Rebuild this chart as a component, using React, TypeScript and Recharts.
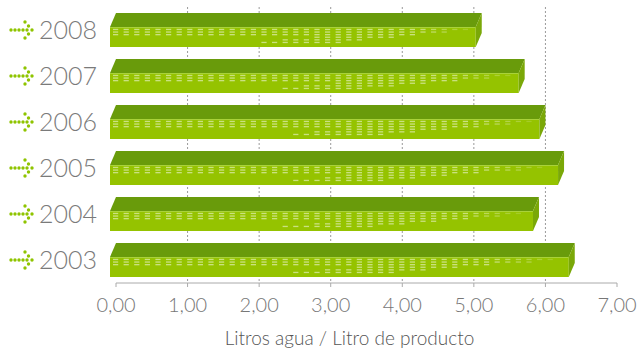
import { BarChart, Bar, XAxis, YAxis, CartesianGrid } from "recharts";

const years = ["2008", "2007", "2006", "2005", "2004", "2003"];
const litros = [5.11, 5.71, 6.0, 6.26, 5.91, 6.41];
const xTicks = [0, 1, 2, 3, 4, 5, 6, 7];
const gridValues = [1, 2, 3, 4, 5, 6];

const data = years.map((year, i) => ({ year, litros: litros[i] }));

const FONT = "Lato, 'Open Sans', sans-serif";
const TOP = "#699b0b";
const FRONT = "#95c300";
const SIDE = "#7aa808";
const DEPTH_X = 6;
const DEPTH_Y = 14;

// coverage of the light dash pattern along the front face (0..1 of face height)
function dashRanges(t: number): [number, number][] {
  if (t < 0.38) return [[0, 0.45]];
  if (t < 0.6) {
    const b = (0.55 * (t - 0.38)) / 0.22;
    return [
      [0, 0.45],
      [1 - b, 1],
    ];
  }
  return [[0, 1 - (0.88 * (t - 0.6)) / 0.4]];
}

function Bar3D(props: any) {
  const { x, y, width, height } = props;
  if (!width || width <= 0) return null;
  const fx = x - DEPTH_X;
  const fy = y + DEPTH_Y;
  const fh = height - DEPTH_Y;
  const right = x + width;

  const dashes: JSX.Element[] = [];
  const colW = 10.6;
  const cols = Math.floor((width - 4) / colW);
  const rows = Math.floor((fh - 2) / 2.6);
  for (let c = 0; c < cols; c++) {
    const cx = fx + 3 + c * colW;
    const t = (c + 0.5) / cols;
    const ranges = dashRanges(t);
    const op = t > 0.85 ? 0.5 * (1 - (t - 0.85) / 0.2) : 0.5;
    for (let r = 0; r < rows; r++) {
      const f = (r + 0.5) / rows;
      if (!ranges.some(([a, b]) => f >= a && f <= b)) continue;
      dashes.push(
        <rect
          key={`${c}-${r}`}
          x={cx}
          y={fy + 1.8 + r * 2.6}
          width={5.2}
          height={1.3}
          fill="#ffffff"
          fillOpacity={op}
        />
      );
    }
  }

  return (
    <g>
      <polygon
        points={`${fx},${fy} ${x},${y} ${right},${y} ${right - DEPTH_X},${fy}`}
        fill={TOP}
      />
      <rect x={fx} y={fy} width={width} height={fh} fill={FRONT} />
      <line x1={fx} y1={fy + 0.5} x2={right - DEPTH_X} y2={fy + 0.5} stroke="#a9d23a" strokeWidth={1} />
      {dashes}
      <polygon
        points={`${right},${y} ${right},${y + height - DEPTH_Y} ${right - DEPTH_X},${y + height} ${right - DEPTH_X},${fy}`}
        fill={SIDE}
      />
    </g>
  );
}

function YearTick(props: any) {
  const { x, y, payload } = props;
  const dots: [number, number][] = [
    [-86, 0], [-82, 0], [-78, 0], [-74, 0], [-70, 0],
    [-72, -8], [-68.5, -4], [-65, 0], [-68.5, 4], [-72, 8],
  ];
  return (
    <g>
      {dots.map(([dx, dy], i) => (
        <circle key={i} cx={x + dx} cy={y + dy} r={1.7} fill="#8fc400" />
      ))}
      <text x={x} y={y} dy={9} textAnchor="end" fontSize={25} fontWeight={300} fill="#7a7a7a" fontFamily={FONT}>
        {payload.value}
      </text>
    </g>
  );
}

export default function App() {
  return (
    <div style={{ position: "absolute", left: 0, top: 0, background: "#fff" }}>
      <BarChart
        width={638}
        height={350}
        data={data}
        layout="vertical"
        margin={{ top: 7, right: 21, bottom: 0, left: 0 }}
        barCategoryGap={0}
      >
        <CartesianGrid
          horizontal={false}
          verticalValues={gridValues}
          stroke="#9a9a9a"
          strokeDasharray="2 2"
        />
        <XAxis
          type="number"
          dataKey="litros"
          domain={[0, 7]}
          ticks={xTicks}
          interval={0}
          height={67}
          tickSize={4}
          tickMargin={11}
          stroke="#aaaaaa"
          tickFormatter={(v: number) => v.toFixed(2).replace(".", ",")}
          tick={{ fontSize: 20, fontWeight: 300, fill: "#777777", fontFamily: FONT }}
          label={{
            value: "Litros agua / Litro de producto",
            position: "insideBottom",
            offset: 5,
            dx: -17,
            fontSize: 19,
            fontWeight: 300,
            fill: "#555555",
            fontFamily: FONT,
          }}
        />
        <YAxis
          type="category"
          dataKey="year"
          width={116}
          axisLine={false}
          tickLine={false}
          tickSize={0}
          tickMargin={19}
          tick={<YearTick />}
        />
        <Bar dataKey="litros" barSize={34} shape={<Bar3D />} isAnimationActive={false} />
      </BarChart>
    </div>
  );
}
